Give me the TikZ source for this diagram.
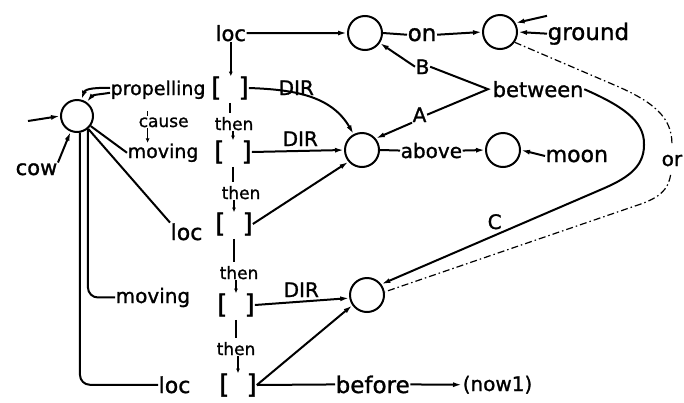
\documentclass[tikz,border=0pt]{standalone}
\usepackage{fontspec}
\setmainfont{DejaVu Sans}[FakeBold=1.2]
\usetikzlibrary{arrows.meta}
\begin{document}
\begin{tikzpicture}[x=1pt,y=-1pt,
  circ/.style={circle,draw,line width=2pt,minimum size=#1,inner sep=0pt},
  circ/.default=34pt,
  lbl/.style={inner sep=0.5pt,anchor=base west,font=\fontsize{#1}{#1}\selectfont},
  lbl/.default=20,
  brk/.style={inner sep=0pt,font=\fontsize{26}{26}\selectfont},
  con/.style={line width=2pt},
  arr/.style={con,-{Latex[length=9pt,width=5pt]}},
  sarr/.style={line width=1.5pt,-{Latex[length=4.5pt,width=4pt]}},
  tick/.style={line width=1.5pt,shorten <=3pt,shorten >=3pt},
  orline/.style={line width=1.2pt,dash pattern=on 7pt off 3pt on 1.5pt off 3pt},
]
\fill[white] (0,0) rectangle (684,402);
\useasboundingbox (0,0) rectangle (684,402);

% circles
\node[circ=32pt] (c0) at (77,116) {};
\node[circ] (c1) at (365,33) {};
\node[circ] (c2) at (500,32) {};
\node[circ] (c3) at (362,150) {};
\node[circ] (c4) at (367,295) {};
\node[circ] (c5) at (503,150) {};

% labels
\node[lbl=21] (cow) at (15,175) {cow};
\coordinate (lft) at (28,121);
\node[lbl=19] (prop) at (110,95) {propelling};
\node[lbl=17] (cause) at (138,127) {cause};
\node[lbl=19] (mov1) at (127,158) {moving};
\node[lbl=22] (loc3) at (170,240) {loc};
\node[lbl=20] (mov2) at (115,303) {moving};
\node[lbl=22] (loc5) at (158,393) {loc};
\node[lbl=21] (loctop) at (215,41) {loc};
\node[lbl=23] (on) at (407,41) {on};
\node[lbl=23] (ground) at (547,40) {ground};
\node[lbl=21] (between) at (492,97) {between};
\node[lbl=20] (B) at (415,74) {B};
\node[lbl=20] (A) at (412,122) {A};
\node[lbl=20] (above) at (400,158) {above};
\node[lbl=22] (moon) at (545,162) {moon};
\node[lbl=20] (dir1) at (278,95) {DIR};
\node[lbl=20] (dir2) at (282,146) {DIR};
\node[lbl=20] (dir3) at (283,297) {DIR};
\node[lbl=20] (C) at (487,229) {C};
\node[lbl=20] (or) at (661,166) {or};
\node[lbl=23] (before) at (335,393) {before};
\node[lbl=20] (now) at (462,391) {(now1)};

% bracket column
\node[brk] (b1) at (230,88) {[\hspace{17pt}]};
\node[brk] (b2) at (233,152) {[\hspace{17pt}]};
\node[brk] (b3) at (234,224) {[\hspace{17pt}]};
\node[brk] (b4) at (236,305) {[\hspace{17pt}]};
\node[brk] (b5) at (238,385) {[\hspace{17pt}]};
\node[lbl=17] (t1) at (214,130) {then};
\node[lbl=17] (t2) at (221,199) {then};
\node[lbl=17] (t3) at (219,279) {then};
\node[lbl=17] (t4) at (216,355) {then};

\draw[sarr] (loctop.south) -- (loctop.south |- b1.north);
\draw[tick] (b1.south) -- (b1.south |- t1.north);
\draw[sarr] (b2.north |- t1.south) -- (b2.north);
\draw[tick] (b2.south) -- (b2.south |- t2.north);
\draw[sarr] (b3.north |- t2.south) -- (b3.north);
\draw[tick] (b3.south) -- (b3.south |- t3.north);
\draw[sarr] (b4.north |- t3.south) -- (b4.north);
\draw[tick] (b4.south) -- (b4.south |- t4.north);
\draw[sarr] (b5.north |- t4.south) -- (b5.north);

% actor circle connections
\draw[arr] (cow.north east) -- (c0);
\draw[arr] (lft) -- (c0.west);
\draw[arr] ([yshift=2pt]prop.west) to[out=180,in=70] (c0.75);
\draw[arr] ([yshift=-3pt]prop.west) to[out=190,in=50] (c0.55);
\draw[tick,shorten <=1pt,shorten >=1pt] ([xshift=-16pt]cause.north) -- ++(0,-7);
\draw[sarr] ([xshift=-16pt]cause.south) -- ([xshift=-16pt]cause.south |- mov1.north);
\draw[con] (c0) -- (mov1.west);
\draw[con] (c0) -- (loc3.north west);
\draw[con,rounded corners=10pt] (c0.-50) -- (c0.-50 |- mov2.west) -- (mov2.west);
\draw[con,rounded corners=10pt] (c0.-80) -- (c0.-80 |- loc5.west) -- (loc5.west);

% top row
\draw[arr] (loctop.east) -- (c1.west);
\draw[con] (c1.east) -- (on.west);
\draw[arr] (on.east) -- (c2.west);
\draw[arr] (ground.west) -- (c2.east);
\draw[arr] ([yshift=6pt]ground.north west) -- (c2.30);

% between
\coordinate (bv) at ([xshift=-4pt]between.west);
\draw[con] (B.east) -- (bv) -- (A.east);
\draw[arr] (B.west) -- (c1.-34);
\draw[arr] (A.south west) -- (c3.40);

% middle row
\draw[con] (c3.east) -- (above.west);
\draw[arr] (above.east) -- (c5.west);
\draw[arr] (moon.west) -- (c5.east);

% DIR links
\draw[arr] (b1.east) to[out=-2,in=120] (c3.118);
\draw[arr] (b2.east) -- (c3.west);
\draw[arr] (b3.east) -- (c3.-139);
\draw[arr] (b4.east) -- (c4.190);
\draw[arr] (b5.east) -- (c4.-145);
\draw[con] (b5.east) -- (before.west);
\draw[arr] (before.east) -- (now.west);

% C and or
\draw[arr] (between.east) .. controls (620,105) and (645,120) .. (644,145)
  .. controls (644,168) and (626,179) .. (600,190) -- (c4.37);
\draw[orline,shorten >=10pt] (c2.-35) -- (612,84) .. controls (655,102) and (672,118) .. (or.north);
\draw[orline,shorten <=8pt] (or.south) .. controls (668,190) and (660,198) .. (635,206) -- (c4.10);
\end{tikzpicture}
\end{document}
